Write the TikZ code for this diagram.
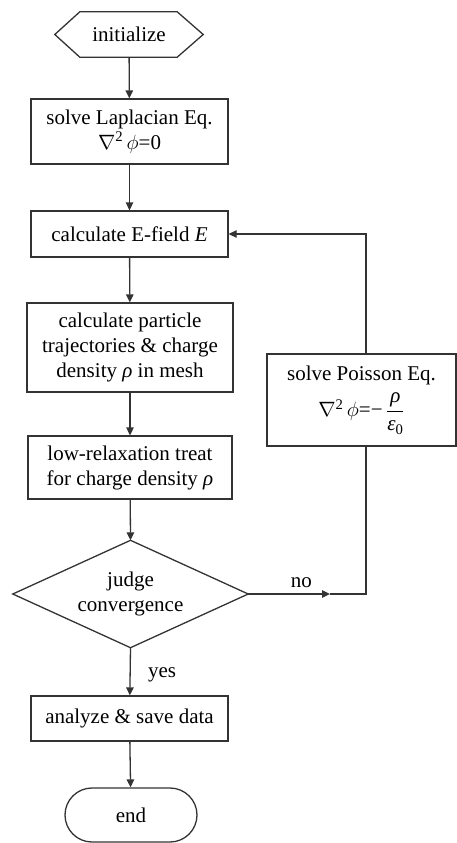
\documentclass[tikz,border=0pt]{standalone}
\usepackage{fontspec}
\usepackage{amsmath}
\setmainfont{Liberation Serif}
\usetikzlibrary{arrows.meta,shapes.misc}
\begin{document}
\begin{tikzpicture}[x=1pt,y=-1pt,
  font=\fontsize{21}{25}\selectfont,
  ln/.style={draw=black!80, line width=1.3pt},
  box/.style={ln, rectangle, align=center, inner sep=0pt},
  ghost/.style={rectangle, align=center, inner sep=0pt},
  arr/.style={ln, -{Triangle[length=8pt,width=7.5pt]}},
]
\useasboundingbox (0,0) rectangle (457,843);
% nodes
\node[ghost, minimum width=148pt, minimum height=45pt] (init) at (129,34.5) {initialize};
\draw[ln] (init.west) -- ([xshift=25pt]init.north west) -- ([xshift=-26pt]init.north east)
  -- (init.east) -- ([xshift=-26pt]init.south east) -- ([xshift=25pt]init.south west) -- cycle;
\node[box, minimum width=197pt, minimum height=65pt] (lap) at (129.5,131.5)
  {solve Laplacian Eq.\\ $\nabla$\textsuperscript{2}\,$\phi$=0};
\node[box, minimum width=197pt, minimum height=46pt] (efield) at (129.5,234)
  {calculate E-field \textit{E}};
\node[box, minimum width=206pt, minimum height=89pt] (traj) at (130,347.5)
  {calculate particle\\ trajectories \& charge\\ density \textit{ρ} in mesh};
\node[box, minimum width=204pt, minimum height=63pt] (relax) at (130,467.5)
  {low-relaxation treat\\ for charge density \textit{ρ}};
\node[ghost, minimum width=235pt, minimum height=107pt] (judge) at (130.5,594)
  {judge\\ convergence};
\draw[ln] (judge.north) -- (judge.east) -- (judge.south) -- (judge.west) -- cycle;
\node[box, minimum width=189pt, minimum height=92pt] (poisson) at (361.5,400)
  {solve Poisson Eq.\\[7pt] $\nabla$\textsuperscript{2}\,$\phi$=−\,$\dfrac{\text{\itshape ρ}}{\text{\itshape ε}_{\text{0}}}$};
\node[box, minimum width=197pt, minimum height=45pt] (analyze) at (129.5,718.5)
  {analyze \& save data};
\node[box, rounded rectangle, minimum width=132pt, minimum height=54pt] (end) at (131,815) {end};
% connectors
\draw[arr] (init) -- (lap);
\draw[arr] (lap) -- (efield);
\draw[arr] (efield) -- (traj);
\draw[arr] (traj) -- (relax);
\draw[arr] (relax) -- (judge.north);
\draw[arr] (judge.south) -- node[right, xshift=14pt, yshift=-3pt] {yes} (analyze);
\draw[arr] (analyze) -- (end);
\coordinate (nomid) at (330,594);
\coordinate (turn) at (366,594);
\draw[arr] (judge.east) -- node[above, pos=0.65, yshift=2pt] {no} (nomid);
\draw[ln] (nomid) -- (turn) -- (turn |- poisson.south);
\draw[arr] (turn |- poisson.north) -- (turn |- efield.east) -- (efield.east);
\end{tikzpicture}
\end{document}
